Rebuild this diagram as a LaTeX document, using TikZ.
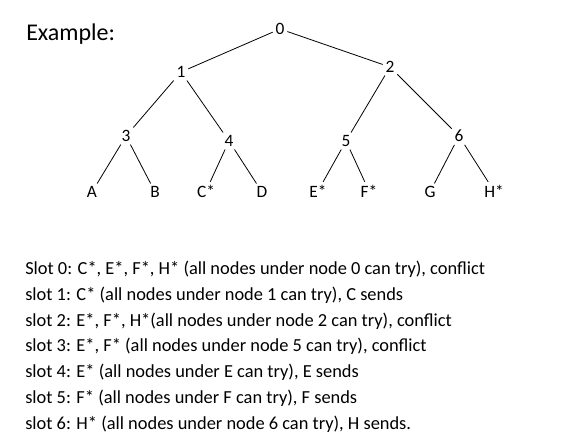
\documentclass[tikz,border=0pt]{standalone}
\usepackage{fontspec}
\setmainfont{Carlito}
\usetikzlibrary{positioning}
\tikzstyle{vertex} = [inner sep=2pt, font=\fontsize{13}{15}\selectfont]
\tikzstyle{leaf} = [inner sep=2pt, font=\fontsize{13}{15}\selectfont]
\tikzstyle{edge} = [line width=0.6pt, black]

\begin{document}
\begin{tikzpicture}[x=0.75pt, y=-0.75pt]
\useasboundingbox (0,0) rectangle (569,447);

% Title
\node (title) [anchor=west, inner sep=0pt, font=\fontsize{18}{21}\selectfont] at (26,34) {Example:};

% Inner nodes of the tree
\node (n0) [vertex] at (280,29) {0};
\node (n1) [vertex] at (181,72) {1};
\node (n2) [vertex] at (390,67) {2};
\node (n3) [vertex] at (126,136) {3};
\node (n4) [vertex] at (229,141) {4};
\node (n5) [vertex] at (346,141) {5};
\node (n6) [vertex] at (459,136) {6};

% Leaves
\node (la) [leaf] at (92,192) {A};
\node (lb) [leaf] at (155,192) {B};
\node (lc) [leaf] at (206,191) {C*};
\node (ld) [leaf] at (262,192) {D};
\node (le) [leaf] at (318,191) {E*};
\node (lf) [leaf] at (369,191) {F*};
\node (lg) [leaf] at (430,192) {G};
\node (lh) [leaf] at (494,191) {H*};

% Edges
\draw [edge] (n0) -- (n1);
\draw [edge] (n0) -- (n2);
\draw [edge] (n1) -- (n3);
\draw [edge] (n1) -- (n4);
\draw [edge] (n2) -- (n5);
\draw [edge] (n2) -- (n6);
\draw [edge] (n3) -- (la);
\draw [edge] (n3) -- (lb);
\draw [edge] (n4) -- (lc);
\draw [edge] (n4) -- (ld);
\draw [edge] (n5) -- (le);
\draw [edge] (n5) -- (lf);
\draw [edge] (n6) -- (lg);
\draw [edge] (n6) -- (lh);

% Slot list
\node (slots) [anchor=north west, inner sep=0pt, align=left, font=\fontsize{13.8}{19.3}\selectfont] at (25,261) {%
Slot 0: C*, E*, F*, H* (all nodes under node 0 can try), conflict\\
slot 1: C* (all nodes under node 1 can try), C sends\\
slot 2: E*, F*, H*(all nodes under node 2 can try), conflict\\
slot 3: E*, F* (all nodes under node 5 can try), conflict\\
slot 4: E* (all nodes under E can try), E sends\\
slot 5: F* (all nodes under F can try), F sends\\
slot 6: H* (all nodes under node 6 can try), H sends.};

\end{tikzpicture}
\end{document}
